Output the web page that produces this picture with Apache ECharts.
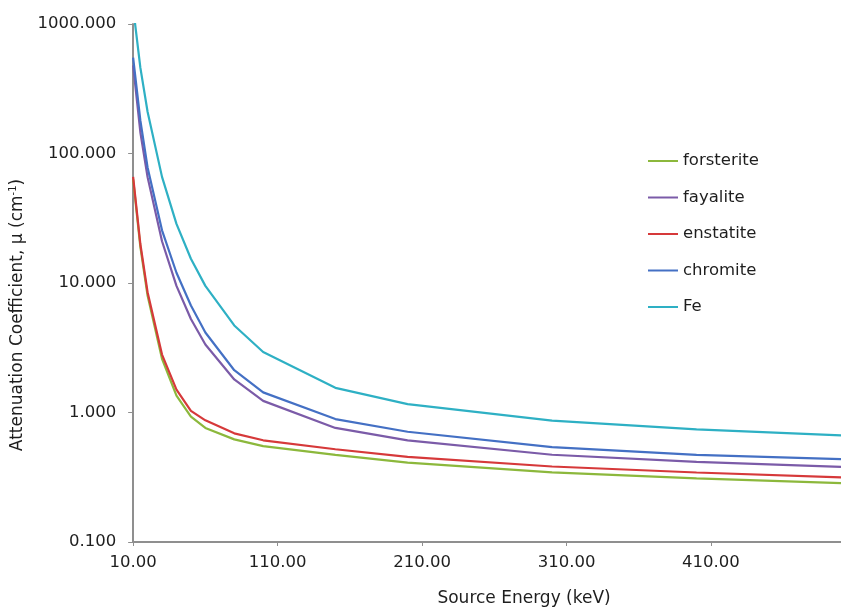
<!DOCTYPE html>
<html>
<head>
<meta charset="utf-8">
<script src="https://cdn.jsdelivr.net/npm/echarts@6/dist/echarts.min.js"></script>
<style>
html,body{margin:0;padding:0;background:#fff;}
#chart{width:841px;height:612px;}
</style>
</head>
<body>
<div id="chart"></div>
<script>
// Source energy (keV)
var energies = [10, 15, 20, 30, 40, 50, 60, 80, 100, 150, 200, 300, 400, 500];
// Attenuation coefficient (cm^-1)
var forsterite = [63, 19, 8.0, 2.6, 1.35, 0.93, 0.76, 0.62, 0.55, 0.47, 0.41, 0.345, 0.31, 0.285];
var fayalite   = [480, 146, 65.7, 21.0, 9.5, 5.27, 3.35, 1.80, 1.23, 0.76, 0.61, 0.472, 0.416, 0.38];
var enstatite  = [66, 20, 8.5, 2.8, 1.5, 1.03, 0.87, 0.69, 0.61, 0.52, 0.455, 0.383, 0.344, 0.315];
var chromite   = [550, 180, 78, 25.5, 12.0, 6.7, 4.15, 2.12, 1.43, 0.89, 0.71, 0.54, 0.47, 0.436];
var fe         = [1340, 460, 210, 66, 28.6, 15.4, 9.5, 4.7, 2.93, 1.55, 1.16, 0.865, 0.74, 0.666];
var seriesNames = ['forsterite', 'fayalite', 'enstatite', 'chromite', 'Fe'];
var xTickValues = [10, 110, 210, 310, 410];

var colors = ['#8cb83c', '#7b5ba8', '#d6393a', '#4470c4', '#2eb0c4'];
var allValues = [forsterite, fayalite, enstatite, chromite, fe];
var FONT = 'DejaVu Sans';
var TXT = '#1e1e1e';
var FS = 16.5;

function zip(xs, ys) { return xs.map(function (x, i) { return [x, ys[i]]; }); }

var chart = echarts.init(document.getElementById('chart'));
chart.setOption({
  backgroundColor: '#ffffff',
  animation: false,
  grid: { left: 133, top: 24, bottom: 69, width: 710 },
  legend: {
    orient: 'vertical',
    left: 643,
    top: 147,
    itemWidth: 30,
    itemHeight: 2,
    itemGap: 18.5,
    icon: 'rect',
    data: seriesNames,
    textStyle: { fontFamily: FONT, fontSize: FS, color: TXT, lineHeight: 18 }
  },
  xAxis: {
    type: 'value',
    min: 10,
    max: 500,
    name: 'Source Energy (keV)',
    nameLocation: 'middle',
    nameGap: 48,
    nameTextStyle: { fontFamily: FONT, fontSize: 17, color: TXT, padding: [0, 0, 0, 74] },
    axisLine: { show: true, lineStyle: { color: '#8f8f8f', width: 2 } },
    axisTick: { show: true, length: 4, customValues: xTickValues, lineStyle: { color: '#8f8f8f' } },
    axisLabel: {
      customValues: xTickValues,
      margin: 12,
      fontFamily: FONT, fontSize: FS, color: TXT,
      formatter: function (v) { return Number(v).toFixed(2); }
    },
    splitLine: { show: false }
  },
  yAxis: {
    type: 'log',
    logBase: 10,
    min: 0.1,
    max: 1000,
    name: '{a|Attenuation Coefficient, μ (cm}{s|-1}{a|)}',
    nameLocation: 'middle',
    nameGap: 104,
    nameTextStyle: {
      padding: [0, 64, 0, 0],
      rich: {
        a: { fontFamily: FONT, fontSize: 17, color: TXT, lineHeight: 20 },
        s: { fontFamily: FONT, fontSize: 10, color: TXT, verticalAlign: 'top', lineHeight: 20 }
      }
    },
    axisLine: { show: true, lineStyle: { color: '#8f8f8f', width: 2 } },
    axisTick: { show: true, length: 5, lineStyle: { color: '#8f8f8f' } },
    minorTick: { show: false },
    axisLabel: {
      margin: 17,
      fontFamily: FONT, fontSize: FS, color: TXT,
      formatter: function (v) { return Number(v).toFixed(3); }
    },
    splitLine: { show: false }
  },
  series: seriesNames.map(function (name, i) {
    return {
      name: name,
      type: 'line',
      data: zip(energies, allValues[i]),
      showSymbol: false,
      symbol: 'none',
      smooth: false,
      clip: true,
      lineStyle: { color: colors[i], width: 2.2 },
      itemStyle: { color: colors[i] }
    };
  })
});
</script>
</body>
</html>
